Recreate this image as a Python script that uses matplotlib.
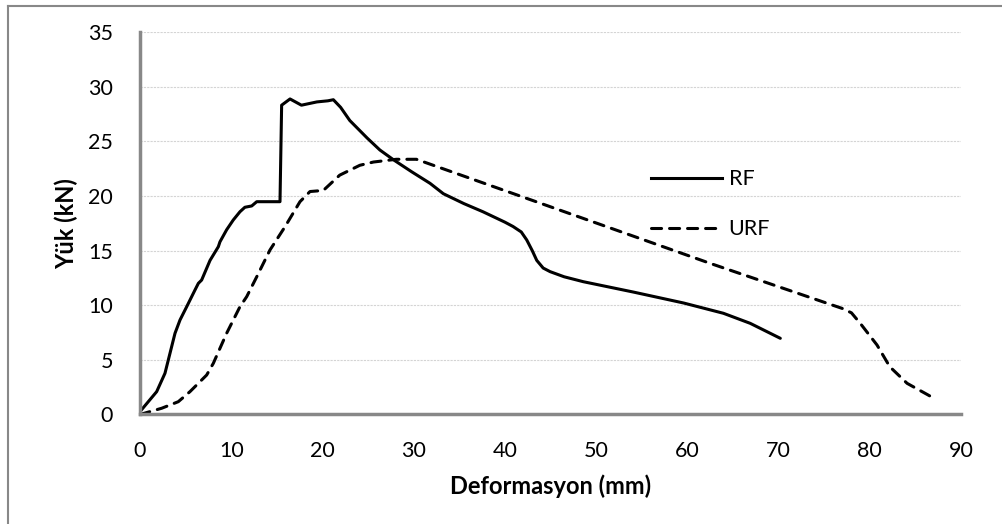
import matplotlib
matplotlib.use('Agg')
import matplotlib.pyplot as plt
from matplotlib.lines import Line2D

plt.rcParams['font.family'] = ['Lato', 'DejaVu Sans']

# RF curve (solid)
rf_x = [0.0, 1.83, 2.74, 3.29, 3.84, 4.39, 5.12, 6.03, 6.4, 6.76, 7.68,
        8.59, 8.77, 9.5, 10.23, 10.96, 11.5, 12.25, 12.8, 15.35, 15.53,
        16.45, 17.7, 19.4, 20.6, 21.2, 22.0, 23.0, 24.9, 26.3, 27.8, 29.8,
        31.8, 33.26, 35.5, 37.6, 40.0, 40.9, 41.8, 42.4, 43.0, 43.5, 44.2,
        44.96, 46.5, 48.6, 54.1, 59.6, 63.96, 66.9, 70.2]
rf_y = [0.26, 2.09, 3.77, 5.6, 7.43, 8.65, 9.86, 11.39, 12.0, 12.3, 14.1,
        15.35, 15.8, 16.9, 17.8, 18.55, 18.96, 19.08, 19.47, 19.47, 28.3,
        28.87, 28.3, 28.6, 28.7, 28.8, 28.1, 26.9, 25.3, 24.2, 23.3, 22.2,
        21.15, 20.2, 19.3, 18.55, 17.6, 17.2, 16.7, 15.97, 15.0, 14.1, 13.4,
        13.07, 12.6, 12.15, 11.2, 10.2, 9.26, 8.34, 6.97]

# URF curve (dashed)
urf_x = [0.0, 2.38, 4.2, 5.48, 7.31, 8.04, 9.5, 10.96, 11.7, 12.8, 14.25,
         15.9, 17.54, 18.64, 20.1, 21.9, 24.1, 25.6, 28.1, 30.3, 62.5, 77.0,
         78.0, 79.0, 80.8, 82.2, 84.1, 86.8]
urf_y = [0.0, 0.57, 1.17, 2.09, 3.61, 4.68, 7.43, 9.86, 10.78, 12.6, 15.05,
         17.18, 19.47, 20.4, 20.5, 21.9, 22.8, 23.1, 23.35, 23.35, 13.83, 9.7,
         9.3, 8.3, 6.36, 4.37, 2.85, 1.6]

fig = plt.figure(figsize=(10.02, 5.24), dpi=100)
ax = fig.add_axes([0.1397, 0.209, 0.8193, 0.730])

ax.plot(rf_x, rf_y, color='black', lw=2.2, solid_capstyle='round',
        solid_joinstyle='round')
ax.plot(urf_x, urf_y, color='black', lw=2.2, dashes=(3.3, 2.6),
        dash_capstyle='round', dash_joinstyle='round')

ax.set_xlim(0, 90)
ax.set_ylim(0, 35)
ax.set_xticks(range(0, 91, 10))
ax.set_yticks(range(0, 36, 5))
ax.tick_params(length=0, labelsize=15.5, colors='black')
ax.tick_params(axis='x', pad=19)
ax.tick_params(axis='y', pad=19.5)
ax.grid(axis='y', color='#d4d4d4', lw=0.8, ls=(0, (2, 1)))
ax.set_axisbelow(True)

for s in ['top', 'right']:
    ax.spines[s].set_visible(False)
for s in ['left', 'bottom']:
    ax.spines[s].set_color('#888888')
    ax.spines[s].set_linewidth(2.5)

ax.set_xlabel('Deformasyon (mm)', fontsize=17, fontweight='bold', labelpad=10)
ax.set_ylabel('Yük (kN)', fontsize=17, fontweight='bold', labelpad=7)

leg = [Line2D([], [], color='black', lw=2.2),
       Line2D([], [], color='black', lw=2.2, dashes=(3.3, 2.6), dash_capstyle='round')]
ax.legend(leg, ['RF', 'URF'], loc='upper left', bbox_to_anchor=(0.599, 0.692),
          frameon=False, fontsize=15.5, handlelength=3.3, handletextpad=0.3,
          labelspacing=1.4)

# outer chart frame
fig.add_artist(Line2D([8 / 1002, 8 / 1002], [0, 1 - 6 / 524], color='#888888', lw=1.5))
fig.add_artist(Line2D([8 / 1002, 1], [1 - 6 / 524, 1 - 6 / 524], color='#888888', lw=1.5))

plt.savefig('out.png', dpi=100)
